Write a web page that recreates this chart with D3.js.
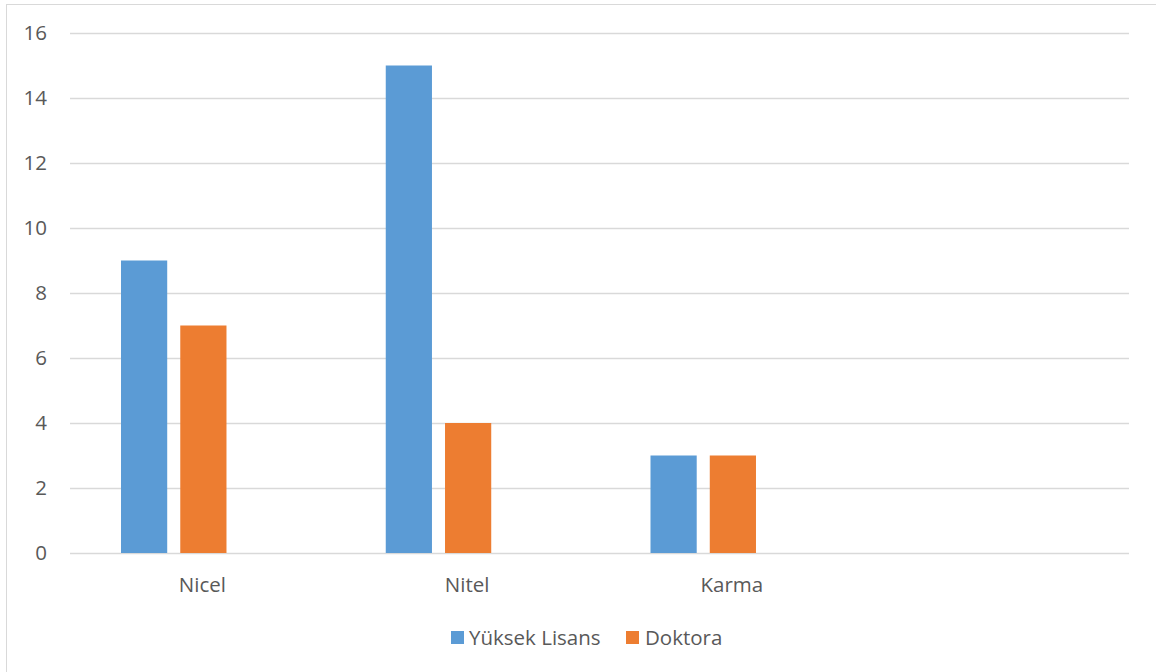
<!DOCTYPE html>
<html><head><meta charset="utf-8">
<script src="https://cdn.jsdelivr.net/npm/d3@7/dist/d3.min.js"></script>
<style>body{margin:0;background:#fff;}svg{display:block;}</style>
</head><body>
<svg id="c" width="1156" height="672"></svg>
<script>
const categories = ["Nicel", "Nitel", "Karma", ""];
const seriesNames = ["Yüksek Lisans", "Doktora", ""];
const yuksekLisans = [9, 15, 3, null];
const doktora = [7, 4, 3, null];
const empty = [null, null, null, null];
const yTicks = [0, 2, 4, 6, 8, 10, 12, 14, 16];
const colors = ["#5B9BD5", "#ED7D31", "none"];

(function(){
const svg = d3.select("#c");
const font = "'Open Sans', sans-serif";
const fs = 20.5;
const textColor = "#595959";

svg.append("rect").attr("x", 6.5).attr("y", 4.5).attr("width", 1170).attr("height", 700)
  .attr("fill", "#fff").attr("stroke", "#d9d9d9").attr("stroke-width", 1);

const pl = 70, pr = 1129, pt = 33, pb = 553;
const x = d3.scaleBand().domain(categories.map((c,i)=>i)).range([pl, pr]).paddingInner(0).paddingOuter(0);
const inner = d3.scaleBand().domain([0,1,2]).range([51, x.bandwidth()-49]).paddingInner(13/59).paddingOuter(0);
const y = d3.scaleLinear().domain([0, 16]).range([pb, pt]);

const yAxis = d3.axisLeft(y).tickValues(yTicks).tickSize(-(pr-pl)).tickPadding(23);
const gy = svg.append("g").attr("transform", `translate(${pl},0)`).call(yAxis);
gy.select(".domain").remove();
gy.selectAll(".tick line").attr("stroke", "#d9d9d9").attr("stroke-width", 1.3);
gy.selectAll(".tick text").attr("fill", textColor).attr("font-family", font).attr("font-size", fs);

const series = [yuksekLisans, doktora, empty];
series.forEach((vals, s) => {
  svg.append("g").selectAll("rect").data(vals.map((v,i)=>({v,i})).filter(d=>d.v!=null))
    .join("rect")
    .attr("x", d => x(d.i) + inner(s))
    .attr("width", inner.bandwidth())
    .attr("y", d => y(d.v))
    .attr("height", d => y(0) - y(d.v))
    .attr("fill", colors[s]);
});

const xAxis = d3.axisBottom(x).tickFormat(i => categories[i]).tickSize(0).tickPadding(24);
const gx = svg.append("g").attr("transform", `translate(0,${pb})`).call(xAxis);
gx.select(".domain").remove();
gx.selectAll(".tick text").attr("fill", textColor).attr("font-family", font).attr("font-size", fs);

const legend = [
  {name: seriesNames[0], color: colors[0], sx: 451, tx: 469},
  {name: seriesNames[1], color: colors[1], sx: 626, tx: 645}
];
const lg = svg.append("g");
legend.forEach(l => {
  lg.append("rect").attr("x", l.sx).attr("y", 631).attr("width", 13).attr("height", 13).attr("fill", l.color);
  lg.append("text").attr("x", l.tx).attr("y", 637.5).attr("dy", "0.35em")
    .attr("fill", textColor).attr("font-family", font).attr("font-size", fs).text(l.name);
});
})();
</script>
</body></html>
